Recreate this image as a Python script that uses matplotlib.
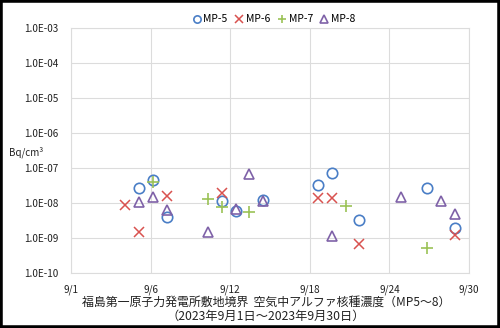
import matplotlib
matplotlib.use("Agg")
import matplotlib.pyplot as plt
from matplotlib.patches import Rectangle

plt.rcParams['font.family'] = ['Noto Sans CJK JP', 'DejaVu Sans']

# sampling days (day of September, fractional) and concentrations in Bq/cm3
mp5_day = [5.15, 6.15, 7.2, 11.35, 12.4, 14.45, 18.6, 19.65, 21.7, 26.85, 28.95]
mp5_val = [2.7e-8, 4.6e-8, 4.1e-9, 1.17e-8, 5.8e-9, 1.2e-8, 3.3e-8, 7.1e-8, 3.2e-9, 2.7e-8, 1.9e-9]

mp6_day = [4.1, 5.15, 7.2, 11.35, 18.6, 19.65, 21.7, 28.95]
mp6_val = [8.6e-9, 1.5e-9, 1.55e-8, 1.9e-8, 1.36e-8, 1.4e-8, 6.8e-10, 1.25e-9]

mp7_day = [6.15, 10.3, 11.35, 13.4, 20.7, 26.85]
mp7_val = [4.1e-8, 1.3e-8, 7.9e-9, 5.6e-9, 8.2e-9, 5.1e-10]

mp8_day = [5.15, 6.15, 7.2, 10.3, 12.4, 13.4, 14.45, 19.65, 24.85, 27.9, 28.95]
mp8_val = [1.05e-8, 1.44e-8, 6.3e-9, 1.5e-9, 6.6e-9, 6.8e-8, 1.17e-8, 1.15e-9, 1.45e-8, 1.17e-8, 4.8e-9]

x_ticks = [0, 6, 12, 18, 24, 30]
x_labels = ['9/1', '9/6', '9/12', '9/18', '9/24', '9/30']
y_ticks = [1e-10, 1e-9, 1e-8, 1e-7, 1e-6, 1e-5, 1e-4, 1e-3]
y_labels = ['1.0E-10', '1.0E-09', '1.0E-08', '1.0E-07', '1.0E-06', '1.0E-05', '1.0E-04', '1.0E-03']

fig = plt.figure(figsize=(5, 3.28), dpi=100)
ax = fig.add_axes([0.142, 0.1677, 0.796, 0.747])

ax.plot(mp5_day, mp5_val, linestyle='none', marker='o', markersize=7.5, markerfacecolor='none',
        markeredgecolor='#4A7EC6', markeredgewidth=1.2, label='MP-5')
ax.plot(mp6_day, mp6_val, linestyle='none', marker='x', markersize=7.5,
        color='#D9524F', markeredgewidth=1.1, label='MP-6')
ax.plot(mp7_day, mp7_val, linestyle='none', marker='+', markersize=8.5,
        color='#9BC256', markeredgewidth=1.2, label='MP-7')
ax.plot(mp8_day, mp8_val, linestyle='none', marker='^', markersize=7.5, markerfacecolor='none',
        markeredgecolor='#7F62A8', markeredgewidth=1.2, label='MP-8')

ax.set_yscale('log')
ax.set_ylim(1e-10, 1e-3)
ax.set_xlim(0, 30)
ax.set_yticks(y_ticks)
ax.set_yticklabels(y_labels)
ax.minorticks_off()
ax.set_xticks(x_ticks)
ax.set_xticklabels(x_labels)
ax.tick_params(length=0, labelsize=7.2, colors='#222222', pad=8)
ax.tick_params(axis='y', pad=9)

ax.grid(True, color='#DCDCDC', linewidth=0.8)
ax.set_axisbelow(True)
for s in ax.spines.values():
    s.set_color('#DCDCDC')
    s.set_linewidth(0.8)

ax.legend(loc='lower center', bbox_to_anchor=(0.51, 0.99), ncol=4, frameon=False,
          fontsize=7.5, handletextpad=0.25, columnspacing=0.7, borderaxespad=0.2,
          handlelength=0.8, markerscale=0.7)

fig.text(0.018, 0.535, 'Bq/cm³', fontsize=7, color='#222222', va='center')
fig.text(0.532, 0.077, '福島第一原子力発電所敷地境界  空気中アルファ核種濃度（MP5～8）',
         fontsize=8.6, ha='center', va='center', color='#222222')
fig.text(0.532, 0.036, '（2023年9月1日～2023年9月30日）',
         fontsize=8.8, ha='center', va='center', color='#222222')

# black frame round the whole figure
fig.patches.append(Rectangle((0, 0), 1, 1, transform=fig.transFigure, fill=False,
                             edgecolor='black', linewidth=4))

fig.savefig('out.png', dpi=100)
